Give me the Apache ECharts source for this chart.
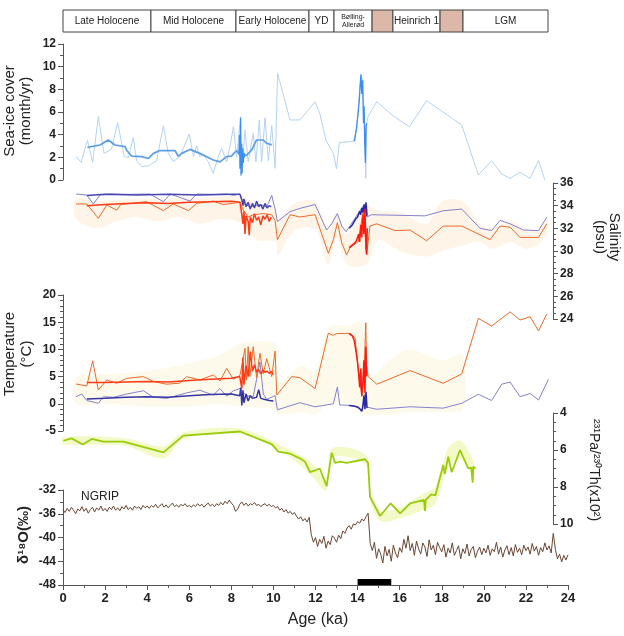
<!DOCTYPE html>
<html><head><meta charset="utf-8">
<script src="https://cdn.jsdelivr.net/npm/echarts@6/dist/echarts.min.js"></script>
<style>html,body{margin:0;padding:0;background:#fff}#c{width:624px;height:636px}</style>
</head><body><div id="c"></div>
<script>
// ---------- DATA ----------
const headerStarts = [0, 4.18, 8.22, 11.69, 12.88, 14.69, 15.68, 17.92, 19.01];
const headerEnds   = [4.18, 8.22, 11.69, 12.88, 14.69, 15.68, 17.92, 19.01, 23.05];
const headerLabels = ['Late Holocene','Mid Holocene','Early Holocene','YD','Bølling-\nAllerød','','Heinrich 1','','LGM'];
const headerPink = [5, 7];

const seaIceRaw = [[0.62,2.06],[0.86,1.56],[1.16,3.5],[1.41,1.56],[1.68,5.6],[1.95,2.35],[2.3,2.7],[2.6,5.06],[2.91,2.06],[3.1,2.0],[3.34,3.73],[3.5,1.7],[3.74,1.18],[4.06,1.24],[4.45,1.7],[4.77,4.77],[5.0,2.4],[5.24,1.64],[5.56,2.06],[6.0,4.06],[6.2,2.06],[6.35,3.0],[6.5,2.06],[6.67,2.3],[6.9,1.6],[7.14,0.59],[7.38,2.06],[7.54,2.8],[7.78,1.6],[7.94,3.0],[8.1,4.7],[8.25,2.0],[8.44,5.6],[8.49,0.6],[8.65,4.4],[8.8,1.6],[9.04,4.1],[9.17,1.6],[9.33,5.3],[9.44,1.6],[9.6,5.5],[9.76,1.7],[9.92,4.8],[10.08,1.03],[10.2,9.4],[10.79,5.3],[11.26,5.3],[11.98,6.9],[12.2,5.9],[12.5,3.5],[12.85,2.35],[13.0,1.0],[13.13,3.3],[13.8,3.4],[13.96,4.5],[14.15,9.3],[14.24,8.8],[14.37,2.9],[14.39,0.15],[14.43,5.0],[14.5,5.6],[14.91,6.9],[15.7,5.65],[16.46,4.7],[17.28,7.0],[18.95,4.85],[19.74,0.44],[20.37,1.7],[20.85,0.53],[21.25,0.15],[21.72,0.68],[22.2,0.15],[22.6,1.7],[22.9,0.0]];
const seaIceSmooth = [[1.16,2.88],[1.76,3.09],[2.15,3.53],[2.47,3.09],[2.95,2.94],[3.03,2.6],[3.27,2.1],[3.74,2.06],[4.06,1.9],[4.3,2.35],[4.6,2.6],[5.32,2.6],[5.48,2.1],[5.64,2.35],[6.04,2.7],[6.5,2.35],[6.83,2.06],[7.14,1.76],[7.46,1.6],[7.78,2.06],[8.0,2.1],[8.25,2.6],[8.4,2.2],[8.73,2.2],[8.97,2.65],[9.2,3.53],[9.52,3.53],[9.68,3.24],[9.92,3.1]];
const seaIceHi1 = [[8.36,2.3],[8.39,4.0],[8.41,1.0],[8.44,5.5],[8.46,0.4],[8.49,3.2],[8.51,0.6],[8.54,2.8],[8.57,1.5],[8.6,2.4],[8.64,2.0]];
const seaIceHi2 = [[13.85,3.4],[13.95,4.6],[14.02,5.8],[14.08,7.0],[14.12,8.2],[14.16,9.3],[14.2,7.6],[14.24,8.8],[14.28,5.0],[14.31,6.5],[14.34,3.2],[14.37,1.5],[14.4,4.8],[14.45,5.0]];

const salPurpleRaw = [[0.62,35.03],[1.13,34.94],[1.44,34.15],[1.76,34.94],[2.23,35.03],[3.0,35.0],[4.13,35.03],[4.77,34.35],[5.1,35.03],[6.04,34.4],[6.35,35.03],[7.2,35.0],[7.78,35.03],[8.1,34.9],[8.41,35.03],[8.57,34.2],[8.89,33.9],[9.36,34.1],[9.68,33.9],[9.92,34.9],[10.08,33.7],[10.19,32.6],[10.79,33.47],[11.26,33.76],[11.98,34.1],[12.53,31.85],[12.77,32.4],[13.04,33.3],[13.25,32.2],[13.45,31.7],[13.64,32.2],[14.12,33.6],[14.35,34.15],[14.43,33.0],[14.67,33.2],[17.2,33.1],[18.07,33.55],[18.95,33.7],[19.82,32.0],[20.37,31.8],[20.77,32.7],[21.25,32.4],[21.88,31.85],[22.6,31.8],[22.99,32.97]];
const salPurpleSmooth = [[1.13,34.9],[2.0,35.0],[3.5,34.95],[5.0,35.0],[6.5,34.95],[8.0,35.0],[8.41,35.0],[8.5,34.5],[8.55,34.0],[8.6,34.6],[8.7,33.9],[8.8,34.3],[8.9,33.7],[9.0,34.2],[9.1,33.8],[9.2,34.4],[9.3,33.9],[9.4,34.1],[9.5,33.7],[9.6,34.2],[9.7,33.8],[9.8,34.0],[9.9,33.9]];
const salPurpleHi = [[13.6,32.0],[13.75,32.3],[13.9,32.8],[14.0,33.0],[14.1,33.5],[14.15,33.2],[14.2,33.8],[14.25,33.4],[14.3,34.1],[14.35,33.3],[14.4,34.3],[14.45,33.1]];
const salRedRaw = [[0.62,34.15],[1.13,34.15],[1.68,32.88],[2.08,34.06],[2.55,33.6],[2.75,34.1],[3.97,34.35],[4.77,33.56],[5.24,34.15],[5.96,33.56],[6.35,34.2],[7.14,34.4],[7.62,34.1],[8.41,34.3],[8.57,33.6],[8.8,33.0],[9.04,33.2],[9.52,33.3],[9.92,33.2],[10.08,32.7],[10.19,31.0],[10.79,33.2],[11.26,33.0],[11.98,33.2],[12.61,29.8],[12.85,31.0],[13.04,32.5],[13.25,30.7],[13.48,29.65],[13.64,30.3],[14.04,30.85],[14.27,33.6],[14.43,29.65],[14.59,32.2],[14.91,32.4],[15.78,31.8],[16.5,31.85],[17.28,30.9],[18.07,32.2],[18.95,32.2],[20.3,31.0],[20.77,32.2],[21.25,32.1],[21.72,31.2],[22.6,31.2],[22.99,32.4]];
const salRedSmooth = [[1.13,34.0],[2.0,34.1],[3.0,34.2],[4.0,34.25],[5.0,34.2],[6.0,34.3],[7.0,34.35],[8.0,34.4],[8.41,34.3],[8.5,33.2],[8.55,32.4],[8.6,33.5],[8.65,31.5],[8.7,33.1],[8.8,32.6],[8.85,31.4],[8.9,33.0],[9.0,32.5],[9.1,33.3],[9.2,32.7],[9.3,33.0],[9.4,32.3],[9.5,33.1],[9.6,32.8],[9.7,33.2],[9.8,32.6],[9.9,33.0]];
const salRedHi = [[13.6,30.3],[13.8,30.6],[13.95,30.9],[14.05,31.5],[14.1,30.8],[14.15,32.3],[14.2,31.2],[14.25,33.2],[14.3,31.5],[14.35,33.7],[14.4,30.2],[14.43,29.7],[14.46,32.0]];
const salBand = [[0.62,32.8,34.6],[1.7,32.0,34.4],[2.5,32.6,34.5],[3.5,33.0,34.6],[4.5,32.6,34.6],[5.5,33.0,34.7],[6.5,32.4,34.7],[7.5,32.8,34.8],[8.4,32.5,34.8],[9.2,31.0,34.2],[10.1,30.8,33.6],[10.2,29.6,32.6],[11.0,31.8,34.2],[12.0,31.9,34.4],[12.6,28.8,31.8],[13.0,31.2,33.4],[13.5,28.8,31.5],[14.4,28.8,34.0],[15.0,31.0,33.6],[16.0,30.0,33.4],[17.3,29.5,32.4],[18.0,30.0,34.4],[19.0,30.5,34.4],[19.8,30.8,32.4],[20.4,30.2,32.0],[21.3,30.8,32.6],[22.0,30.2,32.0],[22.6,30.6,31.8],[23.0,31.6,32.8]];

const tempRedRaw = [[0.62,3.64],[1.13,3.27],[1.41,7.9],[1.68,2.54],[2.08,4.37],[2.55,3.77],[3.03,4.68],[3.82,5.0],[4.3,4.1],[4.92,3.6],[5.56,3.8],[5.87,5.0],[6.5,4.37],[7.14,5.3],[7.46,4.2],[7.78,6.5],[8.1,4.5],[8.41,5.2],[8.65,10.2],[8.72,4.4],[8.8,10.5],[8.88,5.0],[9.04,10.5],[9.2,4.8],[9.36,9.3],[9.52,5.5],[9.68,8.3],[9.92,5.0],[10.08,9.7],[10.16,1.6],[10.87,5.0],[11.26,4.8],[11.98,2.8],[12.61,12.96],[12.85,12.6],[13.0,12.9],[13.64,12.96],[13.88,12.1],[14.04,6.2],[14.2,1.3],[14.3,5.0],[14.39,14.9],[14.43,7.0],[14.5,5.0],[14.91,3.6],[16.5,6.1],[18.07,3.77],[18.95,5.5],[19.74,15.7],[20.37,14.3],[21.25,16.9],[21.72,15.4],[22.2,16.0],[22.6,13.4],[22.99,16.5]];
const tempRedSmooth = [[1.13,3.9],[2.0,3.9],[3.0,4.0],[4.0,4.1],[5.0,4.0],[6.0,4.3],[7.0,4.5],[8.0,4.7],[8.4,5.0],[8.5,2.8],[8.55,8.5],[8.6,3.5],[8.7,7.0],[8.8,5.0],[8.9,9.6],[9.0,6.0],[9.1,7.2],[9.2,5.8],[9.3,6.3],[9.4,5.5],[9.5,6.2],[9.6,5.8],[9.7,6.0],[9.8,5.6],[9.9,5.9],[10.0,5.4]];
const tempRedHi = [[13.6,12.9],[13.75,12.5],[13.85,11.5],[13.95,9.0],[14.0,7.5],[14.05,5.5],[14.1,3.0],[14.15,6.5],[14.2,1.5],[14.25,4.0],[14.3,8.0],[14.35,2.0],[14.39,10.5],[14.43,5.0]];
const tempPurpleRaw = [[0.62,1.3],[0.89,1.8],[1.13,0.6],[1.68,0.1],[1.92,1.3],[2.4,1.2],[3.03,1.8],[3.82,2.4],[4.3,1.2],[4.92,1.0],[5.87,2.0],[6.5,2.5],[7.14,1.6],[7.46,2.8],[7.78,1.4],[8.1,2.4],[8.41,2.8],[8.7,1.5],[9.04,1.3],[9.36,7.7],[9.52,1.8],[9.68,0.8],[10.08,1.5],[10.19,-1.1],[11.26,0.2],[11.98,-0.55],[12.85,0.0],[13.04,3.1],[13.15,-0.2],[13.64,-0.3],[14.04,-0.6],[14.2,-1.3],[14.35,1.8],[14.43,-0.6],[14.91,-1.0],[16.5,-0.55],[18.07,-0.8],[18.95,0.1],[19.74,1.75],[20.37,0.6],[20.85,3.6],[21.25,4.0],[21.72,1.3],[22.2,1.9],[22.6,0.7],[23.07,4.5]];
const tempPurpleSmooth = [[1.13,0.9],[2.0,1.0],[3.0,1.2],[4.0,1.3],[5.0,1.2],[6.0,1.5],[7.0,1.7],[8.0,1.8],[8.4,1.5],[8.45,3.0],[8.5,-0.3],[8.55,2.5],[8.6,0.2],[8.7,1.8],[8.8,0.5],[8.9,1.5],[9.0,1.0],[9.2,1.2],[9.3,2.6],[9.4,1.0],[9.6,0.8],[9.8,0.6],[10.0,0.5]];
const tempPurpleHi = [[13.6,-0.3],[13.8,-0.4],[14.0,-0.6],[14.1,-0.9],[14.2,-1.4],[14.25,-0.5],[14.3,1.5],[14.35,-1.0],[14.4,2.2],[14.45,-0.8]];
const tempBand = [[0.62,0,5],[2,0,5.5],[4,-0.5,6],[6,-0.5,7.5],[7.5,0,9],[8.4,-0.5,11],[10.1,-1,11],[10.2,-2,4],[11.3,-1.5,7],[12.0,-2,6],[12.6,0,14],[13.6,0,14.5],[14.3,-2,15],[14.6,-2,5],[15.5,-2,8],[16.5,-1.5,10],[18.0,-1.5,8],[19.0,-1,9]];

const paTh = [[0.02,5.5],[0.41,5.37],[0.94,5.7],[1.37,5.4],[1.92,5.55],[2.87,5.55],[4.77,6.13],[5.72,5.22],[8.41,5.0],[9.92,5.68],[10.23,6.09],[10.79,6.2],[11.26,6.45],[11.5,6.63],[11.74,7.2],[11.98,7.1],[12.2,7.0],[12.53,7.95],[12.77,6.14],[12.93,6.7],[13.17,6.63],[13.48,6.7],[14.35,6.5],[14.5,6.7],[14.59,8.52],[15.07,9.57],[15.57,8.88],[16.02,9.42],[16.5,8.88],[17.16,8.7],[17.2,9.3],[17.24,8.7],[17.5,8.4],[17.7,8.45],[18.07,6.81],[18.14,7.3],[18.31,6.36],[18.47,7.2],[18.87,6.0],[19.26,7.0],[19.4,6.95],[19.47,7.77],[19.5,6.9],[19.6,7.0]];
const paThBand = [[0,5.3,5.7],[2.9,5.35,5.75],[4.77,5.8,6.45],[5.7,5.05,5.4],[8.4,4.85,5.15],[10.8,6.0,6.4],[11.9,6.8,7.5],[12.5,7.6,8.2],[12.8,5.9,6.4],[14.4,6.3,6.8],[14.6,8.2,8.8],[15.1,9.3,9.85],[16.0,9.1,9.7],[17.2,8.3,9.2],[17.7,8.0,8.9],[18.3,5.9,6.9],[18.9,5.5,6.5],[19.5,6.6,7.4]];

const ngripStart = 0, ngripStep = 0.1;
const ngripValues = [
-35.3,-35.8,-35.1,-35.6,-34.9,-35.4,-36.0,-35.2,-35.5,-34.8,-35.6,-35.1,-35.9,-35.3,-34.9,-35.7,-35.0,-35.4,-34.7,-35.5,-35.1,
-35.6,-34.9,-35.3,-34.7,-35.4,-35.0,-35.5,-34.8,-35.2,-34.6,-35.3,-34.9,-35.4,-34.7,-35.1,-34.8,-35.3,-34.6,-35.0,-34.7,
-35.1,-34.6,-34.9,-34.4,-35.0,-34.7,-34.3,-34.9,-34.5,-35.0,-34.6,-34.2,-34.8,-34.5,-34.9,-34.4,-34.7,-34.3,-34.8,-34.6,
-34.9,-34.5,-34.8,-34.3,-34.7,-34.4,-34.9,-34.5,-34.2,-34.7,-34.4,-34.8,-34.3,-34.6,-34.1,-34.5,-33.9,-34.3,-33.7,-34.2,
-34.6,-35.6,-35.2,-34.4,-34.0,-34.6,-34.2,-34.7,-34.3,-34.5,-34.1,-34.6,-34.4,-34.8,-34.5,-34.3,-34.7,-34.4,-34.8,-34.6,
-35.0,-34.8,-35.4,-35.1,-35.7,-35.3,-35.9,-35.6,-36.1,-35.8,
-36.4,-36.9,-36.5,-37.2,-36.8,-37.4,-36.6,-39.5,-40.8,-40.0,
-41.5,-40.3,-41.0,-39.8,-41.8,-40.6,-41.2,-39.7,-40.1,-40.8,
-39.6,-40.2,-38.9,-39.3,-38.4,-38.0,-38.6,-37.7,-37.9,-37.3,
-37.6,-36.9,-37.2,-36.5,-35.9,-41.0,
-42.2,-40.8,-43.5,-41.9,-42.8,-44.3,-41.5,-43.1,-42.0,-44.0,-41.3,-42.6,-43.4,-41.7,
-42.5,-40.3,-41.8,-39.7,-42.2,-41.0,-43.0,-40.6,-41.9,-42.8,-40.9,-41.6,-43.2,-40.4,-42.1,-41.3,-42.9,-40.8,-41.7,-42.4,
-41.2,-43.3,-41.8,-42.6,-40.9,-43.0,-42.2,-41.4,-43.6,-41.9,-42.7,-41.1,-43.1,-42.0,-41.5,-43.4,-42.3,-41.6,-42.9,-41.8,
-42.6,-41.3,-43.0,-41.9,-42.4,-40.8,-42.8,-41.6,-43.3,-42.1,-41.4,-42.9,-41.7,-43.1,-41.2,-42.5,-41.8,-42.9,-41.3,-42.2,
-41.6,-42.8,-41.0,-42.3,-41.5,-43.0,-41.7,-42.4,-40.9,-42.1,-41.4,-42.6,
-39.3,
-42.0,-43.6,-42.8,-44.1,-43.0,-43.8,-42.9];
const blackBar = [[14.0, 15.6]];

// ---------- CHART ----------
const FONT = 'Liberation Sans, Arial, sans-serif';
const AX = '#555';
function xAx(g, show) {
  return { gridIndex: g, type: 'value', min: 0, max: 24, interval: 2, show: show,
    axisLine: { show: true, onZero: false, lineStyle: { color: AX } },
    axisTick: { show: true, length: 5, lineStyle: { color: AX } },
    minorTick: { show: true, splitNumber: 2, length: 3, lineStyle: { color: AX } },
    splitLine: { show: false },
    axisLabel: { color: '#222', fontSize: 13, fontWeight: 'bold', fontFamily: FONT, margin: 7 } };
}
function yAx(g, min, max, interval, pos, minorSplit, extra) {
  return Object.assign({ gridIndex: g, type: 'value', min: min, max: max, interval: interval, position: pos,
    axisLine: { show: true, onZero: false, lineStyle: { color: AX } },
    axisTick: { show: true, length: 5, lineStyle: { color: AX } },
    minorTick: { show: true, splitNumber: minorSplit, length: 3, lineStyle: { color: AX } },
    splitLine: { show: false },
    axisLabel: { color: '#222', fontSize: 12, fontWeight: 'bold', fontFamily: FONT, margin: 7 } }, extra || {});
}
function line(g, data, color, width, z) {
  return { type: 'line', xAxisIndex: g, yAxisIndex: g, data: data, symbol: 'none', z: z || 3,
    lineStyle: { color: color, width: width }, silent: true };
}
function band(g, arr, color) {
  return { type: 'custom', xAxisIndex: g, yAxisIndex: g, data: [[0, 0]], z: 1, silent: true,
    renderItem: function (params, api) {
      const pts = [];
      arr.forEach(d => pts.push(api.coord([d[0], d[2]])));
      for (let i = arr.length - 1; i >= 0; i--) pts.push(api.coord([arr[i][0], arr[i][1]]));
      return { type: 'polygon', shape: { points: pts, smooth: 0.3 }, style: { fill: color } };
    } };
}
const ngripData = ngripValues.map((v, i) => [+(ngripStart + i * ngripStep).toFixed(2), v]);

const grids = [
  { left: 63, right: 56, top: 10, height: 22 },
  { left: 63, right: 56, top: 44, height: 136 },
  { left: 63, right: 56, top: 183, height: 136 },
  { left: 63, right: 56, top: 295, height: 136 },
  { left: 63, right: 56, top: 413, height: 111 },
  { left: 63, right: 56, top: 490, height: 95 }
];

const option = {
  animation: false,
  backgroundColor: '#fff',
  grid: grids,
  xAxis: [xAx(0, false), xAx(1, false), xAx(2, false), xAx(3, false), xAx(4, false), xAx(5, true)],
  yAxis: [
    { gridIndex: 0, type: 'value', min: 0, max: 1, show: false },
    yAx(1, 0, 12, 2, 'left', 2),
    yAx(2, 24, 36, 2, 'right', 4, { offset: -15 }),
    yAx(3, -5, 20, 5, 'left', 5),
    yAx(4, 4, 10, 2, 'right', 4, { offset: -15, inverse: true }),
    yAx(5, -48, -32, 4, 'left', 2)
  ],
  series: [
    { type: 'custom', xAxisIndex: 0, yAxisIndex: 0, silent: true,
      data: headerStarts.map((s, i) => [s, headerEnds[i]]),
      renderItem: function (params, api) {
        const i = params.dataIndex;
        const p0 = api.coord([api.value(0), 1]), p1 = api.coord([api.value(1), 0]);
        const small = headerLabels[i].indexOf('\n') >= 0;
        return { type: 'group', children: [
          { type: 'rect', shape: { x: p0[0], y: p0[1], width: p1[0] - p0[0], height: p1[1] - p0[1] },
            style: { fill: headerPink.indexOf(i) >= 0 ? '#ddb7a8' : '#fff', stroke: '#444', lineWidth: 1 } },
          { type: 'text', x: (p0[0] + p1[0]) / 2, y: (p0[1] + p1[1]) / 2,
            style: { text: headerLabels[i], align: 'center', verticalAlign: 'middle', fontSize: small ? 7 : 10,
              lineHeight: small ? 8 : 12, fontFamily: FONT, fill: '#222' } }
        ] };
      } },
    // sea ice
    line(1, seaIceRaw, '#b3d3f0', 1, 2),
    line(1, seaIceSmooth, '#5d9fe3', 1.7, 3),
    line(1, seaIceHi1, '#3b8ff0', 1.3, 4),
    line(1, seaIceHi2, '#3b8ff0', 1.3, 4),
    // salinity
    band(2, salBand, 'rgba(250,215,170,0.28)'),
    line(2, salPurpleRaw, '#8482cf', 1, 2),
    line(2, salRedRaw, '#ec6a2a', 1, 2),
    line(2, salPurpleSmooth, '#4845b0', 1.5, 3),
    line(2, salRedSmooth, '#ff3a16', 1.5, 3),
    line(2, salPurpleHi, '#2a2aa8', 1.5, 4),
    line(2, salRedHi, '#ff1a10', 1.5, 4),
    // temperature
    band(3, tempBand, 'rgba(252,238,190,0.3)'),
    line(3, tempPurpleRaw, '#8482cf', 1, 2),
    line(3, tempRedRaw, '#ec6a2a', 1, 2),
    line(3, tempPurpleSmooth, '#3634a6', 1.5, 3),
    line(3, tempRedSmooth, '#ff3a16', 1.5, 3),
    line(3, tempPurpleHi, '#2a2aa8', 1.5, 4),
    line(3, tempRedHi, '#ff1a10', 1.5, 4),
    // Pa/Th
    band(4, paThBand, 'rgba(228,242,130,0.45)'),
    line(4, paTh, '#99cc0a', 1.8, 3),
    // NGRIP
    line(5, ngripData, '#6a4634', 1, 3),
    { type: 'custom', xAxisIndex: 5, yAxisIndex: 5, silent: true, data: blackBar,
      renderItem: function (params, api) {
        const p0 = api.coord([api.value(0), -47]), p1 = api.coord([api.value(1), -48]);
        return { type: 'rect', shape: { x: p0[0], y: p0[1], width: p1[0] - p0[0], height: p1[1] - p0[1] }, style: { fill: '#000' } };
      } }
  ],
  graphic: [
    { type: 'text', x: 10, y: 111, rotation: Math.PI / 2, style: { text: 'Sea-ice cover', fontSize: 15, fontFamily: FONT, fill: '#222', align: 'center', verticalAlign: 'middle' } },
    { type: 'text', x: 26, y: 111, rotation: Math.PI / 2, style: { text: '(month/yr)', fontSize: 15, fontFamily: FONT, fill: '#222', align: 'center', verticalAlign: 'middle' } },
    { type: 'text', x: 10, y: 354, rotation: Math.PI / 2, style: { text: 'Temperature', fontSize: 15, fontFamily: FONT, fill: '#222', align: 'center', verticalAlign: 'middle' } },
    { type: 'text', x: 27, y: 354, rotation: Math.PI / 2, style: { text: '(°C)', fontSize: 15, fontFamily: FONT, fill: '#222', align: 'center', verticalAlign: 'middle' } },
    { type: 'text', x: 24, y: 535, rotation: Math.PI / 2, style: { text: 'δ¹⁸O(‰)', fontSize: 15, fontWeight: 'bold', fontFamily: FONT, fill: '#222', align: 'center', verticalAlign: 'middle' } },
    { type: 'text', x: 614, y: 237, rotation: -Math.PI / 2, style: { text: 'Salinity', fontSize: 15, fontFamily: FONT, fill: '#222', align: 'center', verticalAlign: 'middle' } },
    { type: 'text', x: 600, y: 237, rotation: -Math.PI / 2, style: { text: '(psu)', fontSize: 15, fontFamily: FONT, fill: '#222', align: 'center', verticalAlign: 'middle' } },
    { type: 'text', x: 594, y: 470, rotation: -Math.PI / 2, style: { text: '²³¹Pa/²³⁰Th(x10²)', fontSize: 14, fontFamily: FONT, fill: '#222', align: 'center', verticalAlign: 'middle' } },
    { type: 'text', x: 318, y: 620, style: { text: 'Age (ka)', fontSize: 16, fontFamily: FONT, fill: '#222', align: 'center', verticalAlign: 'middle' } },
    { type: 'text', x: 81, y: 497, style: { text: 'NGRIP', fontSize: 12, fontFamily: FONT, fill: '#222', align: 'left', verticalAlign: 'middle' } }
  ]
};
const chart = echarts.init(document.getElementById('c'), null, { renderer: 'canvas' });
chart.setOption(option);
</script></body></html>
